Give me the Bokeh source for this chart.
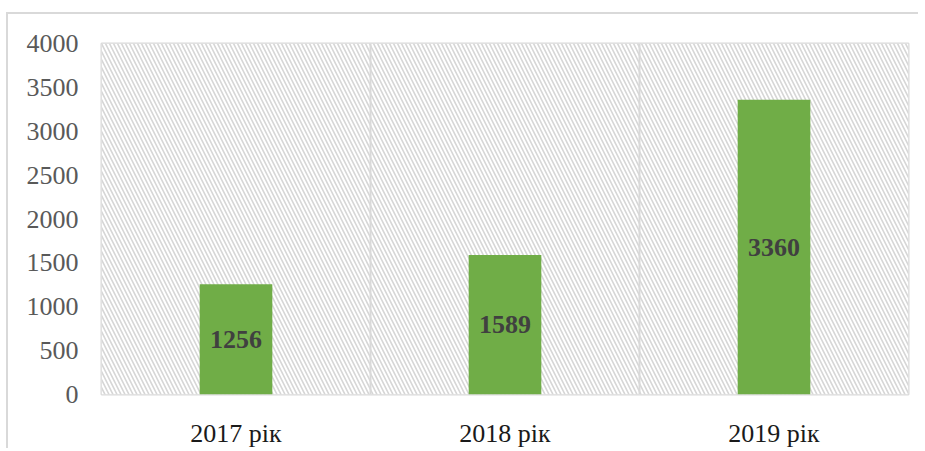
from bokeh.plotting import figure
from bokeh.models import ColumnDataSource, BoxAnnotation, Span, SingleIntervalTicker, LabelSet
from bokeh.embed import file_html
from bokeh.resources import INLINE

years = ["2017 рік", "2018 рік", "2019 рік"]
values = [1256, 1589, 3360]
labels = [str(v) for v in values]
half = [v / 2 for v in values]

src = ColumnDataSource(dict(x=years, top=values, mid=half, text=labels))

FONT = "Liberation Serif"

p = figure(x_range=years, y_range=(0, 4000), width=912, height=436,
           output_backend="svg", toolbar_location=None,
           min_border_left=93, min_border_top=29, min_border_right=12, min_border_bottom=55)
p.styles = {"border-top": "2px solid #d9d9d9", "border-left": "2px solid #d9d9d9",
            "margin-top": "12px", "margin-left": "6px"}
p.x_range.range_padding = 0
p.outline_line_color = "#d9d9d9"
p.outline_line_width = 2

hatch = BoxAnnotation(fill_color="white", fill_alpha=1, line_color=None,
                      hatch_pattern="\\", hatch_color="#d6d6d6", hatch_scale=8,
                      hatch_weight=1.6, level="underlay")
p.add_layout(hatch)

p.vbar(x="x", top="top", width=0.27, source=src, color="#70ad47", line_color=None)
p.add_layout(LabelSet(x="x", y="mid", text="text", source=src, text_align="center",
                      text_baseline="middle", text_font=FONT,
                      text_font_style="bold", text_font_size="26px", text_color="#404040"))

for loc in [1, 2]:
    p.add_layout(Span(location=loc, dimension="height", line_color="#d9d9d9", line_width=2, level="underlay"))

p.yaxis.ticker = SingleIntervalTicker(interval=500)
p.ygrid.grid_line_color = "#d9d9d9"
p.ygrid.grid_line_width = 2
p.xgrid.grid_line_color = None

for ax in [p.xaxis[0], p.yaxis[0]]:
    ax.axis_line_color = None
    ax.major_tick_line_color = None
    ax.minor_tick_line_color = None
    ax.major_label_text_font = FONT
    ax.major_label_text_font_size = "26px"
p.yaxis.major_label_text_color = "#595959"
p.xaxis.major_label_text_color = "#1a1a1a"
p.yaxis.major_label_standoff = 17
p.xaxis.major_label_standoff = 18

open("out.html", "w").write(file_html(p, INLINE))
